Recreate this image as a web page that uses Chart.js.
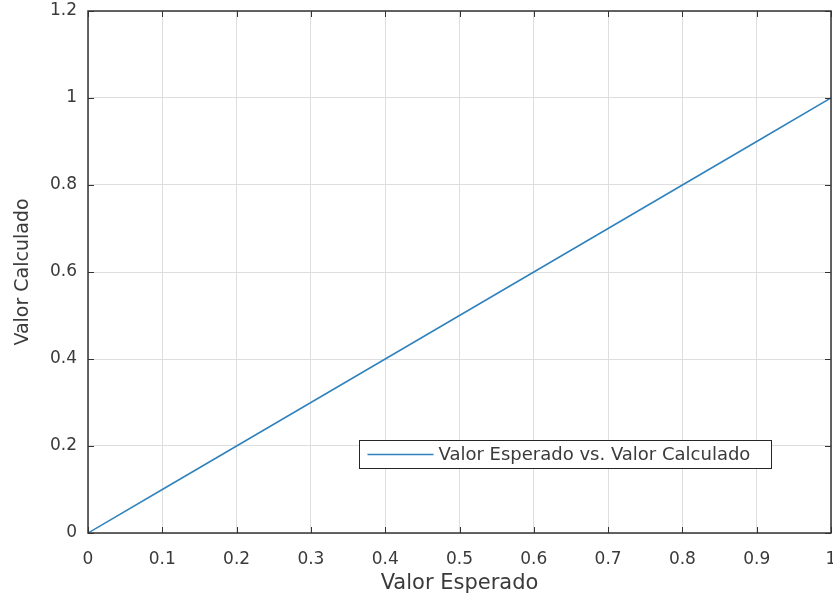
<!DOCTYPE html>
<html>
<head>
<meta charset="utf-8">
<script src="https://cdn.jsdelivr.net/npm/chart.js@4/dist/chart.umd.min.js"></script>
<style>
  html, body { margin: 0; padding: 0; background: #ffffff; }
  #wrap { width: 833px; height: 600px; position: relative; }
</style>
</head>
<body>
<div id="wrap"><canvas id="c" width="833" height="600"></canvas></div>
<script>
// ---- data ----
const seriesLabel = 'Valor Esperado vs. Valor Calculado';
const xValues = [0, 0.1, 0.2, 0.3, 0.4, 0.5, 0.6, 0.7, 0.8, 0.9, 1];
const yValues = [0, 0.1, 0.2, 0.3, 0.4, 0.5, 0.6, 0.7, 0.8, 0.9, 1];
const xTickValues = [0, 0.1, 0.2, 0.3, 0.4, 0.5, 0.6, 0.7, 0.8, 0.9, 1];
const yTickValues = [0, 0.2, 0.4, 0.6, 0.8, 1, 1.2];
const xTitle = 'Valor Esperado';
const yTitle = 'Valor Calculado';

const lineColor = '#2f82bd';
const textColor = '#3a3a3a';
const axisColor = '#333333';
const gridColor = '#dedede';
const FONT = "'DejaVu Sans', sans-serif";

const points = xValues.map((x, i) => ({ x: x, y: yValues[i] }));

// inward ticks + box, and MATLAB-style legend inside the axes
const matlabAxes = {
  id: 'matlabAxes',
  afterDatasetsDraw(chart) {
    const ctx = chart.ctx;
    const a = chart.chartArea;
    const xs = chart.scales.x, ys = chart.scales.y;
    ctx.save();
    ctx.strokeStyle = axisColor;
    ctx.lineWidth = 1;
    ctx.beginPath();
    const tl = 6;
    xTickValues.forEach(v => {
      const px = Math.round(xs.getPixelForValue(v)) + 0.5;
      ctx.moveTo(px, a.bottom); ctx.lineTo(px, a.bottom - tl);
      ctx.moveTo(px, a.top); ctx.lineTo(px, a.top + tl);
    });
    yTickValues.forEach(v => {
      const py = Math.round(ys.getPixelForValue(v)) + 0.5;
      ctx.moveTo(a.left, py); ctx.lineTo(a.left + tl, py);
      ctx.moveTo(a.right, py); ctx.lineTo(a.right - tl, py);
    });
    ctx.stroke();
    ctx.lineWidth = 1.5;
    ctx.strokeRect(a.left, a.top, a.right - a.left, a.bottom - a.top);

    // legend box
    const lx = 359.5, ly = 440.5, lw = 412, lh = 28;
    ctx.fillStyle = '#ffffff';
    ctx.fillRect(lx, ly, lw, lh);
    ctx.lineWidth = 1;
    ctx.strokeStyle = '#262626';
    ctx.strokeRect(lx, ly, lw, lh);
    const ds = chart.data.datasets[0];
    ctx.strokeStyle = ds.borderColor;
    ctx.lineWidth = 1.4;
    ctx.beginPath();
    ctx.moveTo(lx + 8, ly + lh / 2);
    ctx.lineTo(lx + 74, ly + lh / 2);
    ctx.stroke();
    ctx.fillStyle = textColor;
    ctx.font = "18px " + FONT;
    ctx.textBaseline = 'middle';
    ctx.textAlign = 'left';
    ctx.fillText(ds.label, lx + 79, ly + lh / 2 + 1);
    ctx.restore();
  }
};

new Chart(document.getElementById('c'), {
  type: 'line',
  data: {
    datasets: [{
      label: seriesLabel,
      data: points,
      borderColor: lineColor,
      backgroundColor: lineColor,
      borderWidth: 1.5,
      pointRadius: 0,
      fill: false,
      tension: 0
    }]
  },
  options: {
    responsive: false,
    animation: false,
    devicePixelRatio: 1,
    layout: { padding: { top: 11, right: 2, left: 0, bottom: 0 } },
    plugins: {
      legend: { display: false },
      tooltip: { enabled: false }
    },
    scales: {
      x: {
        type: 'linear',
        min: 0, max: 1,
        afterBuildTicks(scale) { scale.ticks = xTickValues.map(v => ({ value: v })); },
        afterFit(scale) { scale.height = 67; scale.paddingLeft = 0; scale.paddingRight = 0; },
        ticks: {
          color: textColor,
          font: { family: FONT, size: 17 },
          padding: 16,
          maxRotation: 0,
          autoSkip: false,
          callback: v => String(v)
        },
        grid: { color: gridColor, drawTicks: false, lineWidth: 1 },
        border: { display: false },
        title: {
          display: true,
          text: xTitle,
          color: textColor,
          font: { family: FONT, size: 21 },
          padding: { top: 0, bottom: 4 }
        }
      },
      y: {
        type: 'linear',
        min: 0, max: 1.2,
        afterBuildTicks(scale) { scale.ticks = yTickValues.map(v => ({ value: v })); },
        afterFit(scale) { scale.width = 88; scale.paddingTop = 0; scale.paddingBottom = 0; },
        ticks: {
          color: textColor,
          font: { family: FONT, size: 17 },
          padding: 11,
          autoSkip: false,
          callback: v => String(Math.round(v * 10) / 10)
        },
        grid: { color: gridColor, drawTicks: false, lineWidth: 1 },
        border: { display: false },
        title: {
          display: true,
          text: yTitle,
          color: textColor,
          font: { family: FONT, size: 19 },
          padding: { top: 12, bottom: 0 }
        }
      }
    }
  },
  plugins: [matlabAxes]
});
</script>
</body>
</html>
